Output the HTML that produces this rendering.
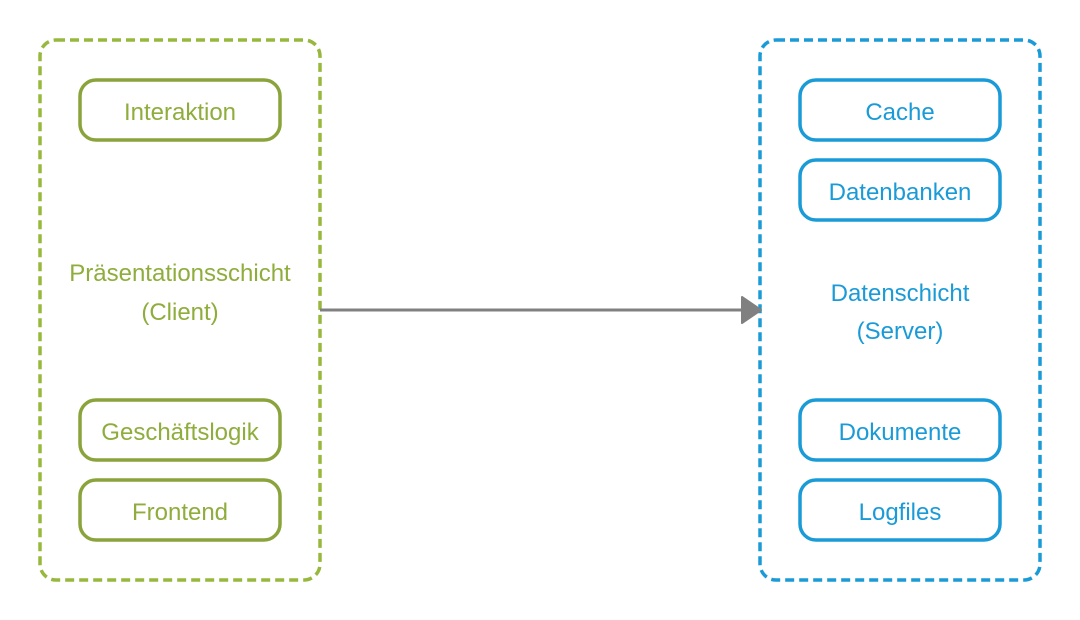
<!DOCTYPE html>
<html><head><meta charset="utf-8"><style>
html,body{margin:0;padding:0;background:#fff;}
svg{display:block;}
text{font-family:"Liberation Sans",sans-serif;font-size:24px;text-anchor:middle;}
</style></head><body>
<svg width="1080" height="620" viewBox="0 0 1080 620" xmlns="http://www.w3.org/2000/svg">
<rect x="40" y="40" width="280" height="540" rx="16" fill="none" stroke="#97b83c" stroke-width="3.5" stroke-dasharray="9 5"/>
<rect x="760" y="40" width="280" height="540" rx="16" fill="none" stroke="#1a9bd7" stroke-width="3.5" stroke-dasharray="9 5"/>
<g fill="none" stroke="#8aa33b" stroke-width="3.5">
<rect x="80" y="80" width="200" height="60" rx="16"/>
<rect x="80" y="400" width="200" height="60" rx="16"/>
<rect x="80" y="480" width="200" height="60" rx="16"/>
</g>
<g fill="none" stroke="#1a9bd7" stroke-width="3.5">
<rect x="800" y="80" width="200" height="60" rx="16"/>
<rect x="800" y="160" width="200" height="60" rx="16"/>
<rect x="800" y="400" width="200" height="60" rx="16"/>
<rect x="800" y="480" width="200" height="60" rx="16"/>
</g>
<line x1="320" y1="310" x2="744" y2="310" stroke="#808080" stroke-width="3"/>
<polygon points="742,297 761,310 742,323" fill="#808080" stroke="#808080" stroke-width="2" stroke-linejoin="round"/>
<g fill="#8fad3c">
<text x="180" y="120">Interaktion</text>
<text x="180" y="440">Geschäftslogik</text>
<text x="180" y="520">Frontend</text>
<text x="180" y="281">Präsentationsschicht</text>
<text x="180" y="320">(Client)</text>
</g>
<g fill="#1a9bd7">
<text x="900" y="120">Cache</text>
<text x="900" y="200">Datenbanken</text>
<text x="900" y="440">Dokumente</text>
<text x="900" y="520">Logfiles</text>
<text x="900" y="301">Datenschicht</text>
<text x="900" y="339">(Server)</text>
</g>
</svg>
</body></html>
